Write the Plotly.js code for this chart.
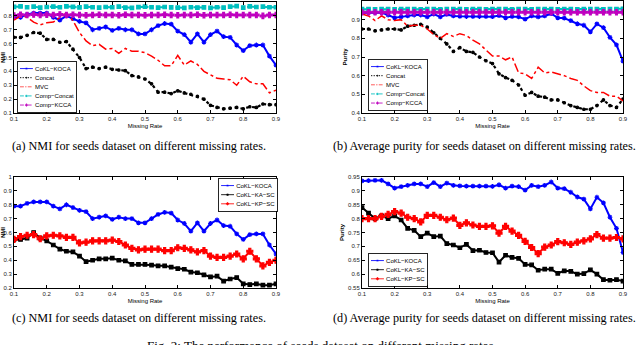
<!DOCTYPE html>
<html><head><meta charset="utf-8">
<script src="https://cdn.plot.ly/plotly-3.0.1.min.js"></script>
<style>html,body{margin:0;padding:0;background:#fff;overflow:hidden}#c{width:640px;height:345px}</style>
</head><body><div id="c"></div>
<script>
const missingRate = [0.10,0.12,0.14,0.16,0.18,0.20,0.22,0.24,0.26,0.28,0.30,0.32,0.34,0.36,0.38,0.40,0.42,0.44,0.46,0.48,0.50,0.52,0.54,0.56,0.58,0.60,0.62,0.64,0.66,0.68,0.70,0.72,0.74,0.76,0.78,0.80,0.82,0.84,0.86,0.88,0.90];

// (a) NMI
const nmiKOCA = [0.79,0.79,0.81,0.82,0.82,0.82,0.79,0.77,0.80,0.78,0.76,0.75,0.70,0.71,0.72,0.695,0.71,0.70,0.70,0.67,0.67,0.70,0.73,0.745,0.74,0.69,0.665,0.61,0.67,0.61,0.665,0.69,0.65,0.645,0.59,0.55,0.585,0.59,0.59,0.51,0.445];
const nmiConcat = [0.646,0.645,0.66,0.68,0.675,0.63,0.63,0.61,0.615,0.56,0.50,0.42,0.43,0.42,0.43,0.415,0.41,0.405,0.37,0.36,0.345,0.31,0.25,0.25,0.24,0.26,0.245,0.235,0.22,0.20,0.155,0.14,0.13,0.135,0.14,0.13,0.145,0.14,0.165,0.16,0.16];
const nmiMVC = [0.77,0.80,0.79,0.755,0.735,0.75,0.755,0.79,0.82,0.765,0.68,0.62,0.585,0.595,0.56,0.565,0.53,0.565,0.545,0.545,0.535,0.51,0.48,0.44,0.44,0.515,0.445,0.475,0.45,0.40,0.375,0.35,0.345,0.34,0.30,0.365,0.325,0.31,0.31,0.245,0.265];
const nmiCompConcat = [0.865,0.868,0.862,0.866,0.86,0.864,0.867,0.862,0.868,0.865,0.861,0.866,0.862,0.86,0.864,0.862,0.866,0.86,0.858,0.863,0.866,0.862,0.86,0.864,0.861,0.86,0.858,0.862,0.86,0.861,0.858,0.862,0.86,0.866,0.87,0.86,0.868,0.864,0.866,0.862,0.862];
const nmiCompKCCA = [0.802,0.808,0.806,0.81,0.806,0.808,0.806,0.81,0.806,0.808,0.806,0.805,0.806,0.808,0.806,0.806,0.805,0.808,0.806,0.806,0.805,0.806,0.806,0.808,0.806,0.805,0.806,0.806,0.808,0.805,0.806,0.806,0.806,0.808,0.806,0.806,0.806,0.806,0.80,0.806,0.806];

// (b) Purity
const purKOCA = [0.936,0.937,0.938,0.938,0.925,0.91,0.915,0.92,0.925,0.925,0.915,0.93,0.915,0.928,0.92,0.918,0.917,0.917,0.917,0.917,0.916,0.922,0.91,0.917,0.915,0.903,0.92,0.915,0.92,0.932,0.91,0.908,0.895,0.878,0.87,0.835,0.877,0.857,0.805,0.765,0.678];
const purConcat = [0.85,0.85,0.84,0.845,0.85,0.85,0.845,0.865,0.87,0.875,0.86,0.83,0.80,0.77,0.73,0.75,0.73,0.725,0.70,0.68,0.665,0.61,0.59,0.575,0.55,0.495,0.51,0.49,0.485,0.47,0.47,0.455,0.44,0.43,0.42,0.42,0.44,0.47,0.44,0.43,0.475];
const purMVC = [0.93,0.92,0.895,0.92,0.90,0.895,0.90,0.865,0.87,0.87,0.85,0.82,0.80,0.825,0.81,0.825,0.815,0.79,0.77,0.74,0.705,0.705,0.685,0.70,0.615,0.61,0.585,0.645,0.615,0.62,0.61,0.60,0.585,0.575,0.545,0.52,0.51,0.51,0.49,0.49,0.465];
const purCompConcat = [0.956,0.956,0.955,0.956,0.956,0.955,0.956,0.956,0.956,0.955,0.956,0.956,0.955,0.956,0.956,0.956,0.955,0.956,0.956,0.955,0.956,0.956,0.956,0.955,0.956,0.956,0.955,0.956,0.956,0.956,0.955,0.956,0.956,0.955,0.956,0.956,0.956,0.955,0.956,0.956,0.958];
const purCompKCCA = [0.94,0.94,0.94,0.94,0.94,0.94,0.94,0.94,0.94,0.94,0.94,0.94,0.94,0.94,0.94,0.94,0.94,0.94,0.94,0.94,0.94,0.94,0.94,0.94,0.94,0.94,0.94,0.94,0.94,0.94,0.94,0.94,0.94,0.94,0.94,0.94,0.94,0.94,0.94,0.94,0.94];

// (c) NMI, CoKL variants
const nmiKASC = [0.55,0.55,0.56,0.60,0.56,0.54,0.51,0.48,0.465,0.46,0.43,0.39,0.40,0.41,0.41,0.415,0.40,0.395,0.37,0.37,0.37,0.365,0.36,0.36,0.35,0.34,0.335,0.315,0.31,0.295,0.28,0.285,0.25,0.265,0.275,0.23,0.225,0.23,0.22,0.22,0.23];
const nmiKPSC = [0.55,0.57,0.58,0.585,0.555,0.575,0.58,0.575,0.565,0.565,0.525,0.53,0.54,0.54,0.54,0.545,0.535,0.51,0.485,0.475,0.48,0.48,0.48,0.47,0.47,0.49,0.485,0.475,0.46,0.47,0.43,0.42,0.42,0.43,0.445,0.41,0.465,0.41,0.36,0.385,0.40];

// (d) Purity, CoKL variants
const purKASC = [0.84,0.82,0.80,0.81,0.80,0.81,0.795,0.765,0.758,0.735,0.748,0.735,0.737,0.71,0.705,0.695,0.707,0.685,0.686,0.678,0.677,0.643,0.668,0.66,0.657,0.635,0.633,0.614,0.618,0.618,0.603,0.612,0.61,0.60,0.602,0.615,0.60,0.58,0.578,0.58,0.575];
const purKPSC = [0.80,0.80,0.80,0.808,0.815,0.825,0.82,0.805,0.80,0.788,0.812,0.812,0.805,0.796,0.802,0.776,0.785,0.777,0.772,0.772,0.774,0.748,0.772,0.755,0.74,0.718,0.696,0.674,0.697,0.705,0.717,0.713,0.707,0.715,0.72,0.727,0.742,0.73,0.73,0.732,0.727];

const xTicks = [0.1,0.2,0.3,0.4,0.5,0.6,0.7,0.8,0.9];
const xTickText = ['0.1','0.2','0.3','0.4','0.5','0.6','0.7','0.8','0.9'];
const yTicksA = [0.1,0.2,0.3,0.4,0.5,0.6,0.7,0.8,0.9];
const yTicksB = [0.4,0.5,0.6,0.7,0.8,0.9,1];
const yTicksC = [0.2,0.3,0.4,0.5,0.6,0.7,0.8,0.9,1];
const yTicksD = [0.55,0.6,0.65,0.7,0.75,0.8,0.85,0.9,0.95];

const captions = [
  '(a) NMI for seeds dataset on different missing rates.',
  '(b) Average purity for seeds dataset on different missing rates.',
  '(c) NMI for seeds dataset on different missing rates.',
  '(d) Average purity for seeds dataset on different missing rates.'
];
const figCaption = 'Fig. 2: The performance of seeds dataset on different missing rates.';

const BLUE='#0000ff', BLACK='#000000', RED='#ff0000', CYAN='#00bfbf', MAG='#bf00bf';

function tr(y, name, xa, ya, leg, color, dash, width, sym, msize){
  return {x: missingRate, y: y, name: name, xaxis: xa, yaxis: ya, legend: leg,
    type:'scatter', mode: sym ? 'lines+markers' : 'lines',
    line:{color:color, dash:dash, width:width},
    marker:{symbol: sym || 'circle', size: msize || 4, color: color, line:{color:color, width:1.2}}};
}

const data = [
  tr(nmiKOCA,'CoKL−KOCA','x','y','legend',BLUE,'solid',2,'asterisk-open',4),
  tr(nmiConcat,'Concat','x','y','legend',BLACK,'dot',2.2,'circle',2.5),
  tr(nmiMVC,'MVC','x','y','legend',RED,'dashdot',1.5,null),
  tr(nmiCompConcat,'Comp−Concat','x','y','legend',CYAN,'dash',2,'square',3.5),
  tr(nmiCompKCCA,'Comp−KCCA','x','y','legend',MAG,'dash',2,'cross',4.5),

  tr(purKOCA,'CoKL−KOCA','x2','y2','legend2',BLUE,'solid',2,'asterisk-open',4),
  tr(purConcat,'Concat','x2','y2','legend2',BLACK,'dot',2.2,'circle',2.5),
  tr(purMVC,'MVC','x2','y2','legend2',RED,'dashdot',1.5,null),
  tr(purCompConcat,'Comp−Concat','x2','y2','legend2',CYAN,'dash',2,'square',3.5),
  tr(purCompKCCA,'Comp−KCCA','x2','y2','legend2',MAG,'dash',2,'cross',4.5),

  tr(nmiKOCA,'CoKL−KOCA','x3','y3','legend3',BLUE,'solid',2,'asterisk-open',4),
  tr(nmiKASC,'CoKL−KA−SC','x3','y3','legend3',BLACK,'solid',2,'square',3.5),
  tr(nmiKPSC,'CoKL−KP−SC','x3','y3','legend3',RED,'solid',2,'cross',5),

  tr(purKOCA,'CoKL−KOCA','x4','y4','legend4',BLUE,'solid',2,'asterisk-open',4),
  tr(purKASC,'CoKL−KA−SC','x4','y4','legend4',BLACK,'solid',2,'square',3.5),
  tr(purKPSC,'CoKL−KP−SC','x4','y4','legend4',RED,'solid',2,'cross',5)
];

const W=640, H=345;
const fx = px => px/W, fy = py => 1 - py/H;
const tickFont = {family:'Liberation Sans, Arial, sans-serif', size:6, color:'#222'};
const titleFont = {family:'Liberation Sans, Arial, sans-serif', size:6, color:'#000'};

function xa(l, r, anchor){
  return {domain:[fx(l), fx(r)], range:[0.1,0.9], anchor:anchor, tickvals:xTicks, ticktext:xTickText,
    ticks:'inside', ticklen:3, tickcolor:'#000', showline:true, mirror:'ticks', linecolor:'#000', linewidth:1,
    showgrid:false, zeroline:false, tickfont:tickFont,
    title:{text:'Missing Rate', font:titleFont, standoff:2}};
}
function ya(t, b, range, ticks, anchor, title){
  return {domain:[fy(b), fy(t)], range:range, anchor:anchor, tickvals:ticks, ticktext:ticks.map(v=>String(v)),
    ticks:'inside', ticklen:3, tickcolor:'#000', showline:true, mirror:'ticks', linecolor:'#000', linewidth:1,
    showgrid:false, zeroline:false, tickfont:tickFont,
    title:{text:'<b>'+title+'</b>', font:titleFont, standoff:3}};
}
const LEG_SCALE = 0.43;
function leg(x, y){
  return {x:x, y:y, xanchor:'left', yanchor:'top', xref:'paper', yref:'paper',
    bgcolor:'#fff', bordercolor:'#000', borderwidth:2, itemwidth:30, tracegroupgap:0,
    font:{family:'Liberation Sans, Arial, sans-serif', size:14, color:'#000'}};
}
const capFont = {family:'Liberation Serif, Times New Roman, serif', size:12.2, color:'#000'};

const layout = {
  width:W, height:H, margin:{l:0,r:0,t:0,b:0}, paper_bgcolor:'#fff', plot_bgcolor:'#fff', showlegend:true,
  xaxis: xa(14,276,'y'), yaxis: ya(2,113,[0.1,0.9],yTicksA,'x','NMI'),
  xaxis2: xa(362,623,'y2'), yaxis2: ya(1,113,[0.4,1],yTicksB,'x2','Purity'),
  xaxis3: xa(14,276,'y3'), yaxis3: ya(177,288,[0.2,1],yTicksC,'x3','NMI'),
  xaxis4: xa(362,623,'y4'), yaxis4: ya(177,288,[0.55,0.95],yTicksD,'x4','Purity'),
  legend: leg(fx(17), fy(61)),
  legend2: leg(fx(368), fy(59)),
  legend3: leg(fx(224), fy(178)),
  legend4: leg(fx(368), fy(253)),
  annotations: [
    {text:captions[0], x:fx(139), y:fy(146), xref:'paper', yref:'paper', showarrow:false, font:capFont, xanchor:'center', yanchor:'middle'},
    {text:captions[1], x:fx(484), y:fy(146), xref:'paper', yref:'paper', showarrow:false, font:capFont, xanchor:'center', yanchor:'middle'},
    {text:captions[2], x:fx(139), y:fy(318), xref:'paper', yref:'paper', showarrow:false, font:capFont, xanchor:'center', yanchor:'middle'},
    {text:captions[3], x:fx(484), y:fy(318), xref:'paper', yref:'paper', showarrow:false, font:capFont, xanchor:'center', yanchor:'middle'},
    {text:figCaption, x:fx(322), y:fy(336), xref:'paper', yref:'paper', showarrow:false, font:{family:capFont.family,size:13,color:'#000'}, xanchor:'center', yanchor:'top'}
  ]
};

// Shrink the library's legends (Plotly enforces a tall minimum row height)
function shrinkLegend(cls, s, rightPx){
  const g = document.querySelector('g.' + cls);
  if(!g) return;
  const m = /translate\(\s*([-\d.]+)[ ,]+([-\d.]+)\s*\)/.exec(g.getAttribute('transform') || '');
  if(!m) return;
  let x = +m[1], y = +m[2];
  if(rightPx !== undefined){
    const bg = g.querySelector('rect.bg');
    const w = bg ? +bg.getAttribute('width') : 0;
    x = rightPx - w * s;
  }
  g.setAttribute('transform', 'translate(' + x + ',' + y + ') scale(' + s + ')');
}

Plotly.newPlot('c', data, layout, {displayModeBar:false, staticPlot:true}).then(function(){
  shrinkLegend('legend', LEG_SCALE);
  shrinkLegend('legend2', LEG_SCALE);
  shrinkLegend('legend3', LEG_SCALE, 277);
  shrinkLegend('legend4', LEG_SCALE);
});
</script></body></html>
